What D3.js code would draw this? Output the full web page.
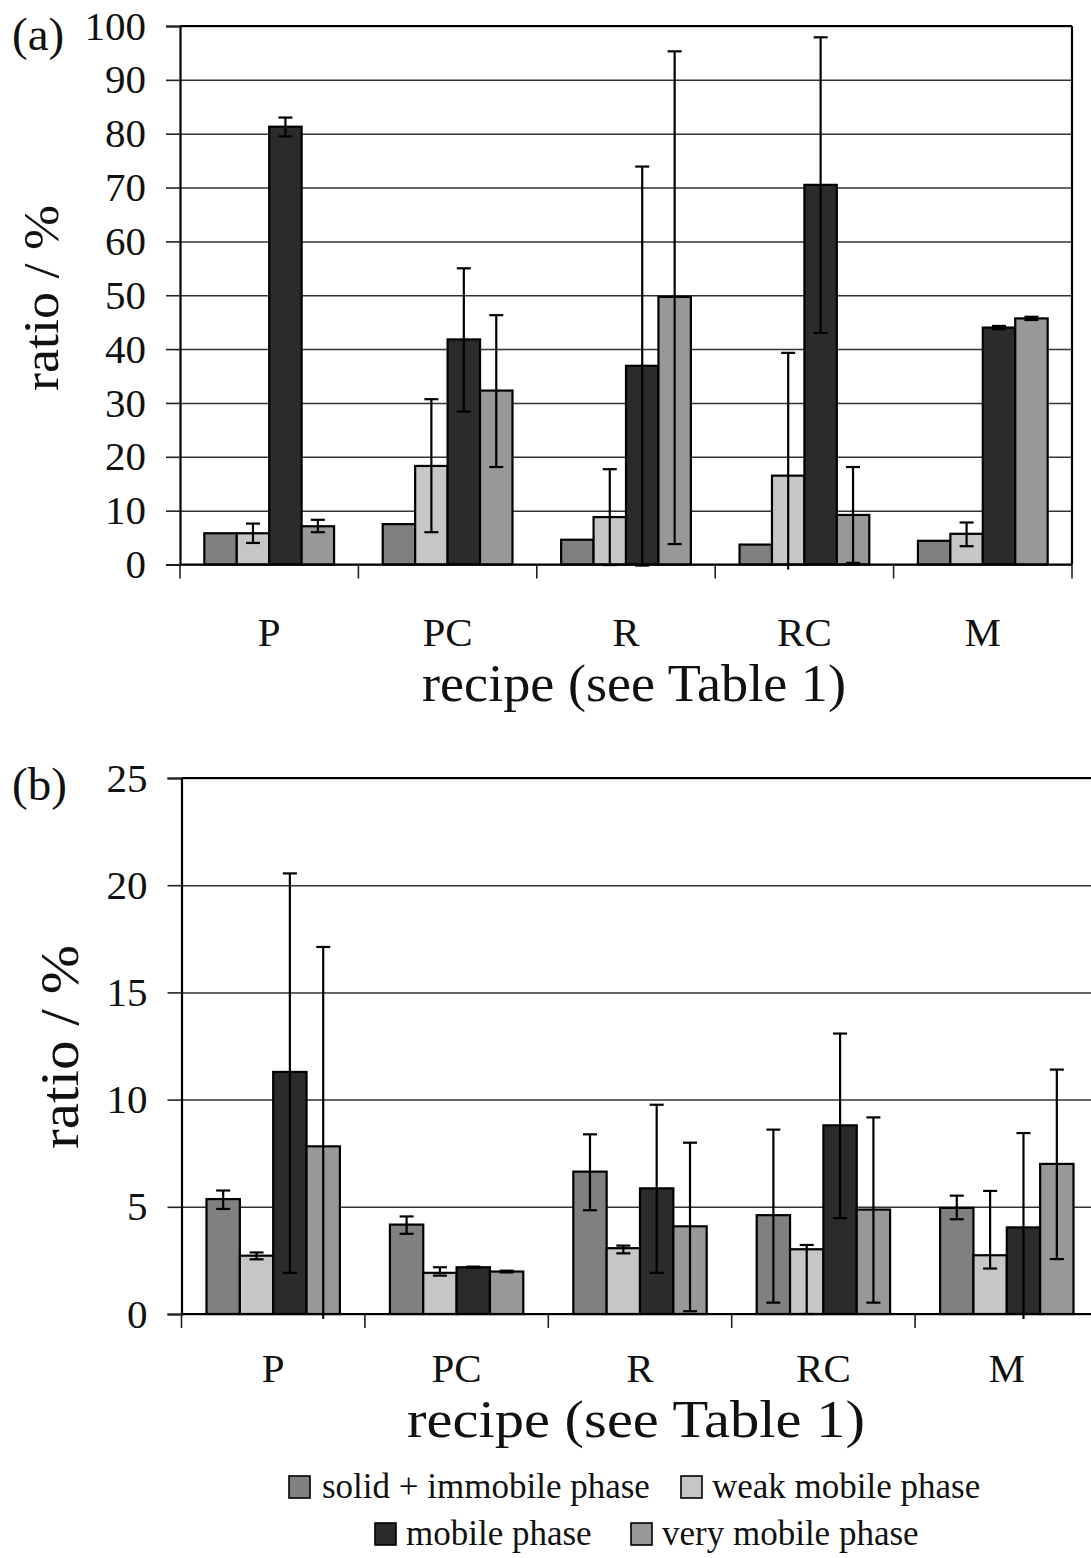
<html>
<head>
  <meta charset="utf-8">
  <title>ratio by recipe</title>
  <script src="https://d3js.org/d3.v7.min.js" charset="utf-8"></script>
  <style>
    body { margin: 0; background: #fff; }
    text { font-family: "Liberation Serif", "Times New Roman", serif; fill: #111; }
  </style>
</head>
<body>
<script>
  // recipes and phases
  var recipes = ["P", "PC", "R", "RC", "M"];
  var phases = ["solid + immobile phase", "weak mobile phase", "mobile phase", "very mobile phase"];
  var phaseColors = ["#808080", "#c6c6c6", "#2b2b2b", "#989898"];

  // panel (a): values and error bar ends (upper / lower), null = no bar
  var aSolid = [5.8, 7.5, 4.6, 3.7, 4.4];
  var aSolidHi = [null, null, null, null, null];
  var aSolidLo = [null, null, null, null, null];
  var aWeak = [5.8, 18.3, 8.8, 16.5, 5.7];
  var aWeakHi = [7.6, 30.7, 17.7, 39.3, 7.8];
  var aWeakLo = [4.0, 6.0, -0.1, -6.3, 3.4];
  var aMobile = [81.3, 41.8, 36.9, 70.5, 44.0];
  var aMobileHi = [83.0, 55.0, 73.9, 97.9, 44.3];
  var aMobileLo = [79.5, 28.4, -0.2, 43.0, 43.7];
  var aVery = [7.1, 32.3, 49.7, 9.2, 45.7];
  var aVeryHi = [8.3, 46.3, 95.3, 18.1, 46.0];
  var aVeryLo = [6.0, 18.1, 3.8, 0.3, 45.4];
  var aTicks = [0, 10, 20, 30, 40, 50, 60, 70, 80, 90, 100];

  // panel (b)
  var bSolid = [5.36, 4.17, 6.64, 4.61, 4.95];
  var bSolidHi = [5.76, 4.55, 8.38, 8.6, 5.52];
  var bSolidLo = [4.9, 3.74, 4.84, 0.53, 4.42];
  var bWeak = [2.72, 1.92, 3.07, 3.02, 2.74];
  var bWeakHi = [2.87, 2.18, 3.19, 3.22, 5.74];
  var bWeakLo = [2.55, 1.79, 2.83, 0, 2.12];
  var bMobile = [11.29, 2.18, 5.86, 8.8, 4.04];
  var bMobileHi = [20.55, 2.21, 9.76, 13.08, 8.44];
  var bMobileLo = [1.92, 2.15, 1.92, 4.47, -0.4];
  var bVery = [7.82, 1.98, 4.09, 4.87, 7.0];
  var bVeryHi = [17.12, 2.02, 7.99, 9.17, 11.4];
  var bVeryLo = [-1.5, 1.94, 0.13, 0.53, 2.56];
  var bTicks = [0, 5, 10, 15, 20, 25];

  var width = 1091, height = 1558;

  var svg = d3.select("body").append("svg")
      .attr("width", width)
      .attr("height", height);

  function pack(vals, his, los) {
    var rows = [];
    recipes.forEach(function(r, i) {
      vals.forEach(function(v, s) {
        rows.push({recipe: r, phase: s, value: v[i], hi: his[s][i], lo: los[s][i]});
      });
    });
    return rows;
  }

  function drawPanel(opt) {
    var g = svg.append("g");
    var x = d3.scaleBand().domain(recipes).range([opt.x0, opt.x1]).paddingInner(0).paddingOuter(0);
    var xs = d3.scaleBand().domain(d3.range(phases.length)).range([0, x.bandwidth()])
        .paddingInner(0).paddingOuter(0.75);
    var y = d3.scaleLinear().domain(opt.domain).range([opt.y0, opt.y1]);

    // gridlines
    g.append("g")
      .attr("transform", "translate(" + opt.x0 + ",0)")
      .call(d3.axisLeft(y).tickValues(opt.ticks).tickSize(-(opt.x1 - opt.x0)).tickFormat(""))
      .call(function(s) {
        s.select(".domain").remove();
        s.selectAll("line").attr("stroke", "#333").attr("stroke-width", 1.5);
      });

    // y axis with outward ticks
    g.append("g")
      .attr("transform", "translate(" + opt.x0 + ",0)")
      .call(d3.axisLeft(y).tickValues(opt.ticks).tickSize(14).tickPadding(20))
      .call(function(s) {
        s.select(".domain").attr("stroke", "#000").attr("stroke-width", 2.2);
        s.selectAll("line").attr("stroke", "#222").attr("stroke-width", 1.6);
        s.selectAll("text").attr("font-size", 41)
          .attr("font-family", "Liberation Serif, Times New Roman, serif").attr("fill", "#111");
      });

    // bars
    var rows = pack(opt.vals, opt.his, opt.los);
    g.append("g").selectAll("rect")
      .data(rows)
      .enter()
      .append("rect")
      .attr("x", function(d) { return x(d.recipe) + xs(d.phase); })
      .attr("y", function(d) { return y(d.value); })
      .attr("width", xs.bandwidth())
      .attr("height", function(d) { return y(0) - y(d.value); })
      .attr("fill", function(d) { return phaseColors[d.phase]; })
      .attr("stroke", "#000")
      .attr("stroke-width", 2.2);

    // error bars, clipped a little below zero like the original
    var clipY = y(0) + 5;
    var eb = g.append("g").selectAll("g")
      .data(rows.filter(function(d) { return d.hi !== null; }))
      .enter()
      .append("g")
      .attr("stroke", "#000")
      .attr("stroke-width", 2.2);
    function cx(d) { return x(d.recipe) + xs(d.phase) + xs.bandwidth() / 2; }
    eb.append("line")
      .attr("x1", cx).attr("x2", cx)
      .attr("y1", function(d) { return y(d.hi); })
      .attr("y2", function(d) { return Math.min(y(d.lo), clipY); });
    eb.append("line")
      .attr("x1", function(d) { return cx(d) - 7; })
      .attr("x2", function(d) { return cx(d) + 7; })
      .attr("y1", function(d) { return y(d.hi); })
      .attr("y2", function(d) { return y(d.hi); });
    eb.filter(function(d) { return y(d.lo) <= clipY; })
      .append("line")
      .attr("x1", function(d) { return cx(d) - 7; })
      .attr("x2", function(d) { return cx(d) + 7; })
      .attr("y1", function(d) { return y(d.lo); })
      .attr("y2", function(d) { return y(d.lo); });

    // frame: top and right
    var top = y(opt.domain[1]);
    g.append("line").attr("x1", opt.x0).attr("x2", opt.x1).attr("y1", top).attr("y2", top)
      .attr("stroke", "#000").attr("stroke-width", 2.2);
    g.append("line").attr("x1", opt.x1).attr("x2", opt.x1).attr("y1", top).attr("y2", y(0))
      .attr("stroke", "#000").attr("stroke-width", 2.2);

    // x axis with ticks between categories
    g.append("line").attr("x1", opt.x0).attr("x2", opt.x1).attr("y1", y(0)).attr("y2", y(0))
      .attr("stroke", "#000").attr("stroke-width", 2.2);
    var bounds = recipes.map(function(r) { return x(r); }).concat([opt.x1]);
    g.append("g").selectAll("line")
      .data(bounds)
      .enter()
      .append("line")
      .attr("x1", function(d) { return d; }).attr("x2", function(d) { return d; })
      .attr("y1", y(0)).attr("y2", y(0) + 14)
      .attr("stroke", "#222").attr("stroke-width", 1.6);

    g.append("g").selectAll("text")
      .data(recipes)
      .enter()
      .append("text")
      .attr("x", function(d) { return x(d) + x.bandwidth() / 2; })
      .attr("y", opt.catY)
      .attr("text-anchor", "middle")
      .attr("font-size", 41)
      .text(function(d) { return d; });

    // titles
    g.append("text")
      .attr("x", opt.xTitleX)
      .attr("y", opt.xTitleY)
      .attr("font-size", opt.xTitleSize)
      .attr("textLength", opt.xTitleLen)
      .attr("lengthAdjust", "spacingAndGlyphs")
      .text("recipe (see Table 1)");

    g.append("text")
      .attr("transform", "translate(" + opt.yTitleX + "," + opt.yTitleY + ") rotate(-90)")
      .attr("text-anchor", "middle")
      .attr("font-size", opt.yTitleSize)
      .attr("textLength", opt.yTitleLen)
      .attr("lengthAdjust", "spacingAndGlyphs")
      .text("ratio / %");

    g.append("text")
      .attr("x", 12)
      .attr("y", opt.tagY)
      .attr("font-size", 47)
      .text(opt.tag);
  }

  drawPanel({
    x0: 180, x1: 1072, y0: 564.5, y1: 26, domain: [0, 100], ticks: aTicks,
    vals: [aSolid, aWeak, aMobile, aVery],
    his: [aSolidHi, aWeakHi, aMobileHi, aVeryHi],
    los: [aSolidLo, aWeakLo, aMobileLo, aVeryLo],
    catY: 646, xTitleX: 422, xTitleY: 701, xTitleSize: 53, xTitleLen: 424,
    yTitleX: 58, yTitleY: 298, yTitleSize: 50, yTitleLen: 186,
    tag: "(a)", tagY: 50
  });

  drawPanel({
    x0: 181.5, x1: 1098.5, y0: 1314, y1: 778, domain: [0, 25], ticks: bTicks,
    vals: [bSolid, bWeak, bMobile, bVery],
    his: [bSolidHi, bWeakHi, bMobileHi, bVeryHi],
    los: [bSolidLo, bWeakLo, bMobileLo, bVeryLo],
    catY: 1382, xTitleX: 407, xTitleY: 1437, xTitleSize: 53, xTitleLen: 458,
    yTitleX: 78, yTitleY: 1047, yTitleSize: 54, yTitleLen: 204,
    tag: "(b)", tagY: 800
  });

  // legend
  var legendX = [289, 681, 375, 631];
  var legendY = [1476, 1476, 1523, 1523];
  var leg = svg.append("g").selectAll("g")
    .data(phases)
    .enter()
    .append("g")
    .attr("transform", function(d, i) { return "translate(" + legendX[i] + "," + legendY[i] + ")"; });
  leg.append("rect")
    .attr("width", 21).attr("height", 22)
    .attr("fill", function(d, i) { return phaseColors[i]; })
    .attr("stroke", "#000").attr("stroke-width", 1.6);
  leg.append("text")
    .attr("x", function(d, i) { return i == 0 ? 33 : 31; })
    .attr("y", 22)
    .attr("font-size", 35)
    .text(function(d) { return d; });
</script>
</body>
</html>
